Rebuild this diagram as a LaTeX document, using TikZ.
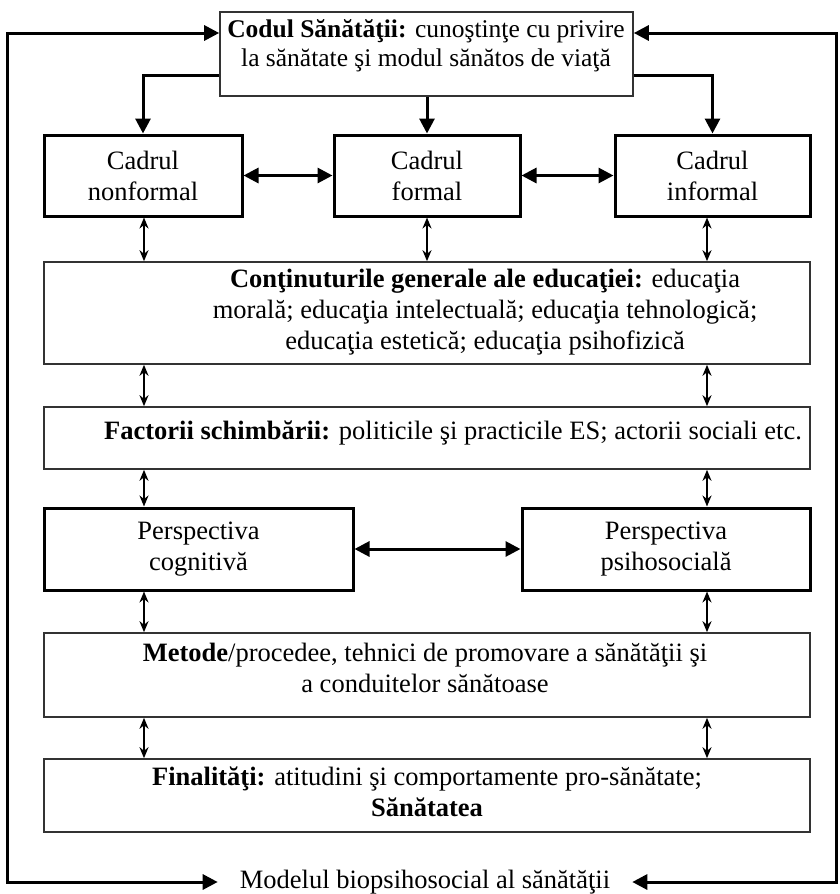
\documentclass[tikz,border=0pt]{standalone}
\usepackage{fontspec}
\setmainfont{Liberation Serif}
\usetikzlibrary{arrows.meta}
\begin{document}
\begin{tikzpicture}[x=1pt,y=-1pt,
  thickbox/.style={draw, line width=3pt, inner sep=0pt},
  thinbox/.style={draw=black!80, line width=1.6pt, inner sep=0pt},
  lbl/.style={font=\fontsize{26.5}{31}\selectfont, align=center, inner sep=0pt},
  flow/.style={line width=3pt, -{Triangle[length=15pt,width=15pt]}},
  both/.style={line width=3pt, {Triangle[length=15pt,width=15pt]}-{Triangle[length=15pt,width=15pt]}},
  link/.style={line width=2.5pt, {Stealth[length=11pt,width=9pt]}-{Stealth[length=11pt,width=9pt]}}]
\useasboundingbox (0,0) rectangle (840,894);

% columns used by the short two-way links
\coordinate (colL) at (144,0);
\coordinate (colR) at (707,0);
\coordinate (lx) at (7,450);
\coordinate (rx) at (836,450);

% boxes
\node[thinbox, minimum width=413pt, minimum height=84pt] (code) at (426.5,54) {};
\node[lbl, font=\fontsize{25.5}{29}\selectfont] (codeT) at (426,46) {\textbf{Codul Sănătăţii:} cunoştinţe cu privire\\la sănătate şi modul sănătos de viaţă};

\node[thickbox, lbl, minimum width=198pt, minimum height=81pt] (nonf) at (143,175.5) {Cadrul\\nonformal};
\node[thickbox, lbl, minimum width=186pt, minimum height=81pt] (form) at (427,175.5) {Cadrul\\formal};
\node[thickbox, lbl, minimum width=195pt, minimum height=81pt] (inf) at (712.5,175.5) {Cadrul\\informal};

\node[thinbox, minimum width=766pt, minimum height=102pt] (cont) at (427,313) {};
\node[lbl] (contT) at (485,312) {\textbf{Conţinuturile generale ale educaţiei:} educaţia\\morală; educaţia intelectuală; educaţia tehnologică;\\educaţia estetică; educaţia psihofizică};

\node[thinbox, minimum width=766pt, minimum height=62pt] (fact) at (427,438) {};
\node[lbl] (factT) at (453,433) {\textbf{Factorii schimbării:} politicile şi practicile ES; actorii sociali etc.};

\node[thickbox, lbl, minimum width=309pt, minimum height=82pt] (cog) at (198.5,549) {Perspectiva\\cognitivă};
\node[thickbox, lbl, minimum width=288pt, minimum height=82pt] (psi) at (666,549) {Perspectiva\\psihosocială};

\node[thinbox, minimum width=766pt, minimum height=84pt] (met) at (427,675) {};
\node[lbl] (metT) at (425,668) {\textbf{Metode}/procedee, tehnici de promovare a sănătăţii şi\\a conduitelor sănătoase};

\node[thinbox, minimum width=766pt, minimum height=73pt] (fin) at (427,795.5) {};
\node[lbl] (finT) at (427,792) {\textbf{Finalităţi:} atitudini şi comportamente pro-sănătate;\\\textbf{Sănătatea}};

\node[lbl, inner xsep=22pt] (model) at (425,882) {Modelul biopsihosocial al sănătăţii};

% from the code box down to the three settings
\draw[flow] ([yshift=-21pt]code.west) -| (nonf.north);
\draw[flow] (code.south -| form.north) -- (form.north);
\draw[flow] ([yshift=-21pt]code.east) -| (inf.north);

% links between the settings and the perspectives
\draw[both] (nonf) -- (form);
\draw[both] (form) -- (inf);
\draw[both] (cog) -- (psi);

% short two-way links between the layers
\draw[link] (nonf.south -| colL) -- (cont.north -| colL);
\draw[link] (form.south) -- (cont.north -| form.south);
\draw[link] (inf.south -| colR) -- (cont.north -| colR);
\draw[link] (cont.south -| colL) -- (fact.north -| colL);
\draw[link] (cont.south -| colR) -- (fact.north -| colR);
\draw[link] (fact.south -| colL) -- (cog.north -| colL);
\draw[link] (fact.south -| colR) -- (psi.north -| colR);
\draw[link] (cog.south -| colL) -- (met.north -| colL);
\draw[link] (psi.south -| colR) -- (met.north -| colR);
\draw[link] (met.south -| colL) -- (fin.north -| colL);
\draw[link] (met.south -| colR) -- (fin.north -| colR);

% outer loop joining the model and the code box
\draw[both] ([yshift=21pt]code.west) -| (lx) |- (model.west);
\draw[both] ([yshift=21pt]code.east) -| (rx) |- (model.east);
\end{tikzpicture}
\end{document}
